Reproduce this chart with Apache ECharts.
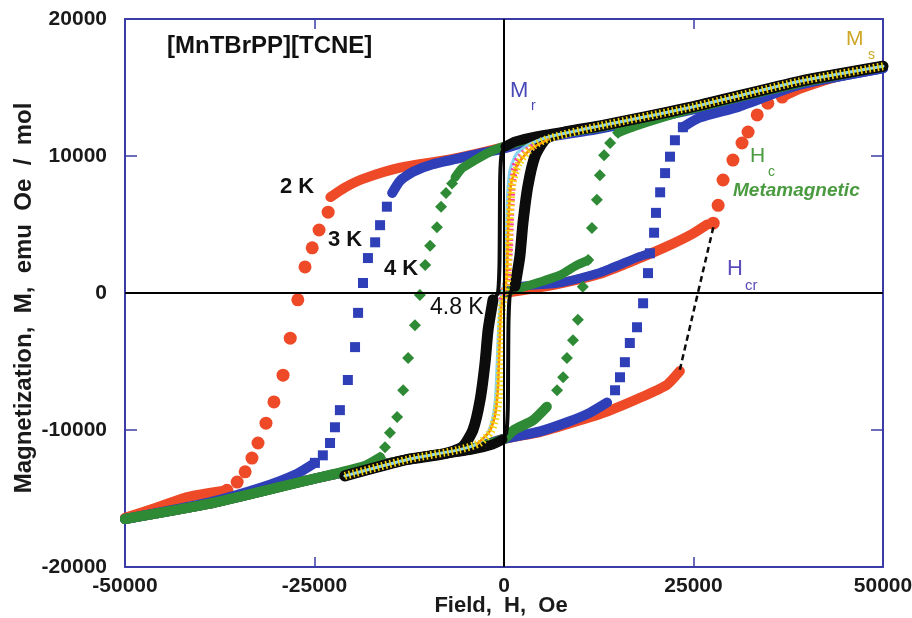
<!DOCTYPE html>
<html>
<head>
<meta charset="utf-8">
<script src="https://cdn.jsdelivr.net/npm/echarts@6/dist/echarts.min.js"></script>
<style>
  html, body { margin: 0; padding: 0; background: #ffffff; }
  #chart { width: 912px; height: 618px; }
</style>
</head>
<body>
<div id="chart"></div>
<script>
// Axis ticks (field in Oe, magnetization in emu Oe / mol)
const xTicks = [-50000, -25000, 0, 25000, 50000];
const yTicks = [-20000, -10000, 0, 10000, 20000];

// ---- 2 K (red circles) ----
const red2kUpperBand = [[50000,16500],[39000,15350],[25000,13500],[12700,12100],[4400,11350],[0,10650],[-7100,9750],[-13700,9150],[-18500,8350],[-21000,7700],[-22900,7000]];
const red2kUpperDots = [[-23200,5900],[-24400,4600],[-25300,3300],[-26250,1900],[-27200,-500],[-28200,-3300],[-29150,-6000],[-30350,-7950],[-31400,-9500],[-32450,-10950],[-33250,-12050],[-34150,-13050],[-35200,-13800],[-36550,-14400]];
const red2kUpperTail = [[-36550,-14400],[-41800,-14900],[-46000,-15700],[-50000,-16400]];
const red2kLowerBand = [[-50000,-16500],[-39000,-15400],[-25000,-13550],[-12700,-12150],[-4400,-11400],[0,-10650],[4750,-10150],[9400,-9400],[13600,-8650],[17950,-7650],[21500,-6700],[23200,-5700]];
const red2kCriticalJump = [[23200,-5600],[27700,5000]];
const red2kRiseDots = [[27600,5100],[28250,6400],[28900,8250],[30200,9700],[31400,10950],[32200,11750],[33400,13000],[34800,13850],[36700,14300]];
const red2kRiseTop = [[36700,14300],[39000,14900],[44000,15800],[50000,16450]];
const red2kVirgin = [[0,0],[6600,600],[12700,1400],[17500,2450],[21500,3400],[24800,4300],[26800,5000]];

// ---- 3 K (blue squares) ----
const blue3kUpperBand = [[50000,16400],[39000,15250],[25000,13400],[12700,12000],[4400,11250],[0,10550],[-5000,9950],[-9400,9400],[-12000,8850],[-13700,8200],[-14750,7300]];
const blue3kUpperDots = [[-15450,6300],[-16350,4950],[-17000,3700],[-17950,2550],[-18600,730],[-19250,-1450],[-19650,-3950],[-20600,-6350],[-21650,-8550],[-22300,-9800],[-22950,-10950],[-23900,-11850],[-24950,-12400]];
const blue3kUpperTail = [[-24950,-12400],[-27500,-13250],[-32000,-14200],[-39000,-15300],[-50000,-16500]];
const blue3kLowerBand = [[-50000,-16500],[-39000,-15400],[-25000,-13550],[-12700,-12150],[-4400,-11400],[0,-10650],[4750,-10100],[8500,-9400],[11300,-8750],[13600,-8000]];
const blue3kLowerDots = [[14650,-7100],[15300,-6150],[15950,-5050],[16600,-3650],[17550,-2500],[18350,-750],[19000,1450],[19250,2900],[19800,4400],[20050,5850],[20600,7350],[21250,8750],[21900,9950],[22550,11150],[23600,12100]];
const blue3kLowerTop = [[23600,12100],[25800,12800],[31000,13600],[39000,15200],[50000,16400]];
const blue3kVirgin = [[0,0],[1700,450],[7400,750],[12700,1500],[17600,2600],[19250,2900]];

// ---- 4 K (green diamonds) ----
const green4kUpperBand = [[50000,16500],[39000,15400],[25000,13500],[12700,12100],[4400,11350],[0,10700],[-1850,10300],[-3800,9700],[-5550,9100],[-6450,8450]];
const green4kUpperDots = [[-6850,8000],[-7650,7300],[-8300,6300],[-8850,4800],[-9750,3450],[-10400,2050],[-11100,-150],[-11750,-2350],[-12650,-4750],[-13300,-7100],[-14100,-9050],[-15050,-10200],[-15700,-11250],[-16350,-12000]];
const green4kUpperTail = [[-16350,-12000],[-18500,-12650],[-25000,-13550],[-39000,-15400],[-50000,-16500]];
const green4kLowerBand = [[-50000,-16500],[-39000,-15400],[-25000,-13550],[-12700,-12150],[-4400,-11400],[0,-10650],[1300,-10000],[3800,-9300],[5650,-8300]];
const green4kLowerDots = [[7000,-7100],[7800,-6150],[8300,-4750],[9100,-3450],[9750,-1950],[10400,450],[11100,2400],[11600,4750],[12250,6800],[12650,8600],[13200,10050],[14000,10950],[15050,11700]];
const green4kLowerTop = [[15050,11700],[18000,12300],[25000,13450],[39000,15300],[50000,16500]];
const green4kVirgin = [[0,0],[1700,300],[4750,800],[7400,1300],[9500,2000],[11100,2400]];

// ---- 4.8 K (black) ----
const black48kUpperBand = [[50000,16550],[39000,15450],[25000,13600],[12700,12200],[4400,11450],[1500,11050],[200,10700]];
const black48kUpperSteep = [[200,10700],[-300,10200],[-500,8500],[-550,5000],[-600,2000],[-800,0],[-1450,-500]];
const black48kUpperTail = [[-1450,-500],[-2100,-2700],[-2500,-5100],[-3150,-7800],[-4100,-10000],[-5500,-11250],[-8000,-11750],[-12700,-12150],[-21000,-13350]];
const black48kLowerBand = [[-21000,-13350],[-12700,-12150],[-4400,-11450],[-1500,-11050],[-200,-10700]];
const black48kLowerSteep = [[-200,-10700],[300,-10200],[500,-8500],[550,-5000],[600,-2000],[800,0],[1450,500]];
const black48kLowerTail = [[1450,500],[2100,2700],[2500,5100],[3150,7800],[4100,10000],[5500,11250],[8000,11750],[12700,12200],[25000,13600],[39000,15450],[50000,16550]];

// ---- narrow inner loops ----
const cyanLoop = [[-21000,-13350],[-12700,-12150],[-6000,-11450],[-3500,-11000],[-2200,-10300],[-1500,-9200],[-1100,-7500],[-900,-5000],[-700,-2500],[-400,-500],[100,1000],[300,4000],[450,7000],[800,9000],[1700,10200],[3500,10900],[6000,11400],[12700,12200],[25000,13600],[39000,15450],[50000,16550]];
const magentaLoop = [[-300,-500],[400,1000],[700,3000],[900,6000],[1100,8000],[1600,9500],[2800,10300],[4200,10800]];
const orangeLoop = [[-3500,-11000],[-1900,-10100],[-1200,-9000],[-800,-7000],[-600,-4000],[-350,-1000],[350,1000],[500,3500],[650,6000],[950,8000],[1800,9400],[3500,10500],[5800,11200]];
const yellowLoop = [[-21000,-13350],[-12700,-12150],[-6000,-11450],[-3200,-10950],[-1700,-10100],[-1000,-8800],[-600,-7000],[-450,-4000],[-250,-1000],[450,1000],[600,3500],[800,6000],[1100,8000],[2000,9500],[3800,10700],[6000,11300],[12700,12200],[25000,13600],[39000,15450],[50000,16550]];

const RED = '#ee4a28', BLUE = '#2f3fb8', GREEN = '#2f8a35', BLACK = '#0c0c0c';
const FRAME = '#3c3ca8';
const FONT = '"Liberation Sans", Arial, Helvetica, sans-serif';

function band(name, data, color, width, z, dash) {
  return {
    type: 'line', name, data, z, silent: true,
    symbol: 'none', showSymbol: false, smooth: 0.2,
    lineStyle: { color, width, cap: dash ? 'butt' : 'round', join: 'round', type: dash || 'solid' }
  };
}
function dots(name, data, symbol, size, color, z) {
  return { type: 'scatter', name, data, z, silent: true, symbol, symbolSize: size, itemStyle: { color, opacity: 1 } };
}

const series = [
  band('2 K upper', red2kUpperBand, RED, 10, 2),
  dots('2 K upper steps', red2kUpperDots, 'circle', 13, RED, 2),
  band('2 K upper tail', red2kUpperTail, RED, 10, 2),
  band('2 K lower', red2kLowerBand, RED, 10, 2),
  dots('2 K rise', red2kRiseDots, 'circle', 13, RED, 2),
  band('2 K rise top', red2kRiseTop, RED, 10, 2),
  band('2 K virgin', red2kVirgin, RED, 10, 2),

  band('3 K upper', blue3kUpperBand, BLUE, 10, 3),
  dots('3 K upper steps', blue3kUpperDots, 'rect', 10, BLUE, 3),
  band('3 K upper tail', blue3kUpperTail, BLUE, 10, 3),
  band('3 K lower', blue3kLowerBand, BLUE, 10, 3),
  dots('3 K lower steps', blue3kLowerDots, 'rect', 10, BLUE, 3),
  band('3 K lower top', blue3kLowerTop, BLUE, 10, 3),
  band('3 K virgin', blue3kVirgin, BLUE, 9, 3),

  band('4 K upper', green4kUpperBand, GREEN, 9, 4),
  dots('4 K upper steps', green4kUpperDots, 'diamond', 12, GREEN, 4),
  band('4 K upper tail', green4kUpperTail, GREEN, 10, 4),
  band('4 K lower', green4kLowerBand, GREEN, 10, 4),
  dots('4 K lower steps', green4kLowerDots, 'diamond', 12, GREEN, 4),
  band('4 K lower top', green4kLowerTop, GREEN, 9, 4),
  band('4 K virgin', green4kVirgin, GREEN, 9, 4),

  band('H_cr', red2kCriticalJump, BLACK, 2.5, 5, [6, 4]),

  band('4.8 K upper', black48kUpperBand, BLACK, 10, 6),
  band('4.8 K upper steep', black48kUpperSteep, BLACK, 4, 6),
  band('4.8 K upper tail', black48kUpperTail, BLACK, 11, 6),
  band('4.8 K lower', black48kLowerBand, BLACK, 10, 6),
  band('4.8 K lower steep', black48kLowerSteep, BLACK, 4, 6),
  band('4.8 K lower tail', black48kLowerTail, BLACK, 11, 6),

  band('inner cyan', cyanLoop, '#86d2f0', 3, 7),
  band('inner magenta', magentaLoop, '#ff3d9e', 7, 8, [2, 3]),
  band('inner orange', orangeLoop, '#ff8c00', 2.5, 9),
  Object.assign(band('inner yellow', yellowLoop, '#f4d60c', 8, 10, [1.6, 2.6]), {
    markLine: {
      silent: true, z: 20, symbol: ['none', 'none'], animation: false,
      label: { show: false },
      lineStyle: { color: '#000000', width: 2, type: 'solid' },
      data: [{ xAxis: 0 }, { yAxis: 0 }]
    }
  })
];

const tickLabel = { fontFamily: FONT, fontWeight: 'bold', fontSize: 21, color: '#1a1a1a' };

function xAxisOf(position, withLabels) {
  return {
    type: 'value', position,
    min: xTicks[0], max: xTicks[xTicks.length - 1], interval: xTicks[1] - xTicks[0],
    axisLine: { show: true, onZero: false, lineStyle: { color: FRAME, width: 2 } },
    axisTick: { show: true, inside: true, length: 10, lineStyle: { color: FRAME, width: 1.5 } },
    axisLabel: Object.assign({ show: withLabels, margin: 9, formatter: v => String(v) }, tickLabel),
    splitLine: { show: false }
  };
}
function yAxisOf(position, withLabels) {
  return {
    type: 'value', position,
    min: yTicks[0], max: yTicks[yTicks.length - 1], interval: yTicks[1] - yTicks[0],
    axisLine: { show: true, onZero: false, lineStyle: { color: FRAME, width: 2 } },
    axisTick: { show: true, inside: true, length: 12, lineStyle: { color: FRAME, width: 1.5 } },
    axisLabel: Object.assign({ show: withLabels, margin: 18, formatter: v => String(v) }, tickLabel),
    splitLine: { show: false }
  };
}

function txt(x, y, text, font, fill, align, rotation) {
  return {
    type: 'text', x, y, z: 30, silent: true, rotation: rotation || 0,
    style: {
      text, font, fill,
      align: align || 'left', verticalAlign: 'middle',
      textAlign: align || 'left', textVerticalAlign: 'middle'
    }
  };
}

const graphic = [
  // axis titles
  txt(501, 606, 'Field,  H,  Oe', 'bold 22px ' + FONT, '#1a1a1a', 'center'),
  txt(24, 298, 'Magnetization,  M,  emu  Oe  /  mol', 'bold 24px ' + FONT, '#1a1a1a', 'center', Math.PI / 2),
  // panel labels
  txt(167, 46, '[MnTBrPP][TCNE]', 'bold 24px ' + FONT, '#111111'),
  txt(280, 187, '2 K', 'bold 22px ' + FONT, '#111111'),
  txt(328, 240, '3 K', 'bold 22px ' + FONT, '#111111'),
  txt(384, 269, '4 K', 'bold 22px ' + FONT, '#111111'),
  txt(430, 308, '4.8 K', '23px ' + FONT, '#111111'),
  txt(510, 91, 'M', '22px ' + FONT, '#4848b8'),
  txt(531, 106, 'r', '14px ' + FONT, '#4848b8'),
  txt(846, 39, 'M', '21px ' + FONT, '#cfa623'),
  txt(868, 55, 's', '14px ' + FONT, '#cfa623'),
  txt(750, 156, 'H', '21px ' + FONT, '#4a9a40'),
  txt(768, 172, 'c', '14px ' + FONT, '#4a9a40'),
  txt(733, 191, 'Metamagnetic', 'italic bold 19px ' + FONT, '#4a9a40'),
  txt(727, 269, 'H', '22px ' + FONT, '#5a4cba'),
  txt(745, 286, 'cr', '15px ' + FONT, '#5a4cba')
];

const chart = echarts.init(document.getElementById('chart'), null, { renderer: 'canvas' });
chart.setOption({
  animation: false,
  backgroundColor: '#ffffff',
  grid: { left: 125, right: 29, top: 19, bottom: 51, containLabel: false, outerBoundsMode: 'none' },
  xAxis: [xAxisOf('bottom', true), xAxisOf('top', false)],
  yAxis: [yAxisOf('left', true), yAxisOf('right', false)],
  series,
  graphic
});
</script>
</body>
</html>
